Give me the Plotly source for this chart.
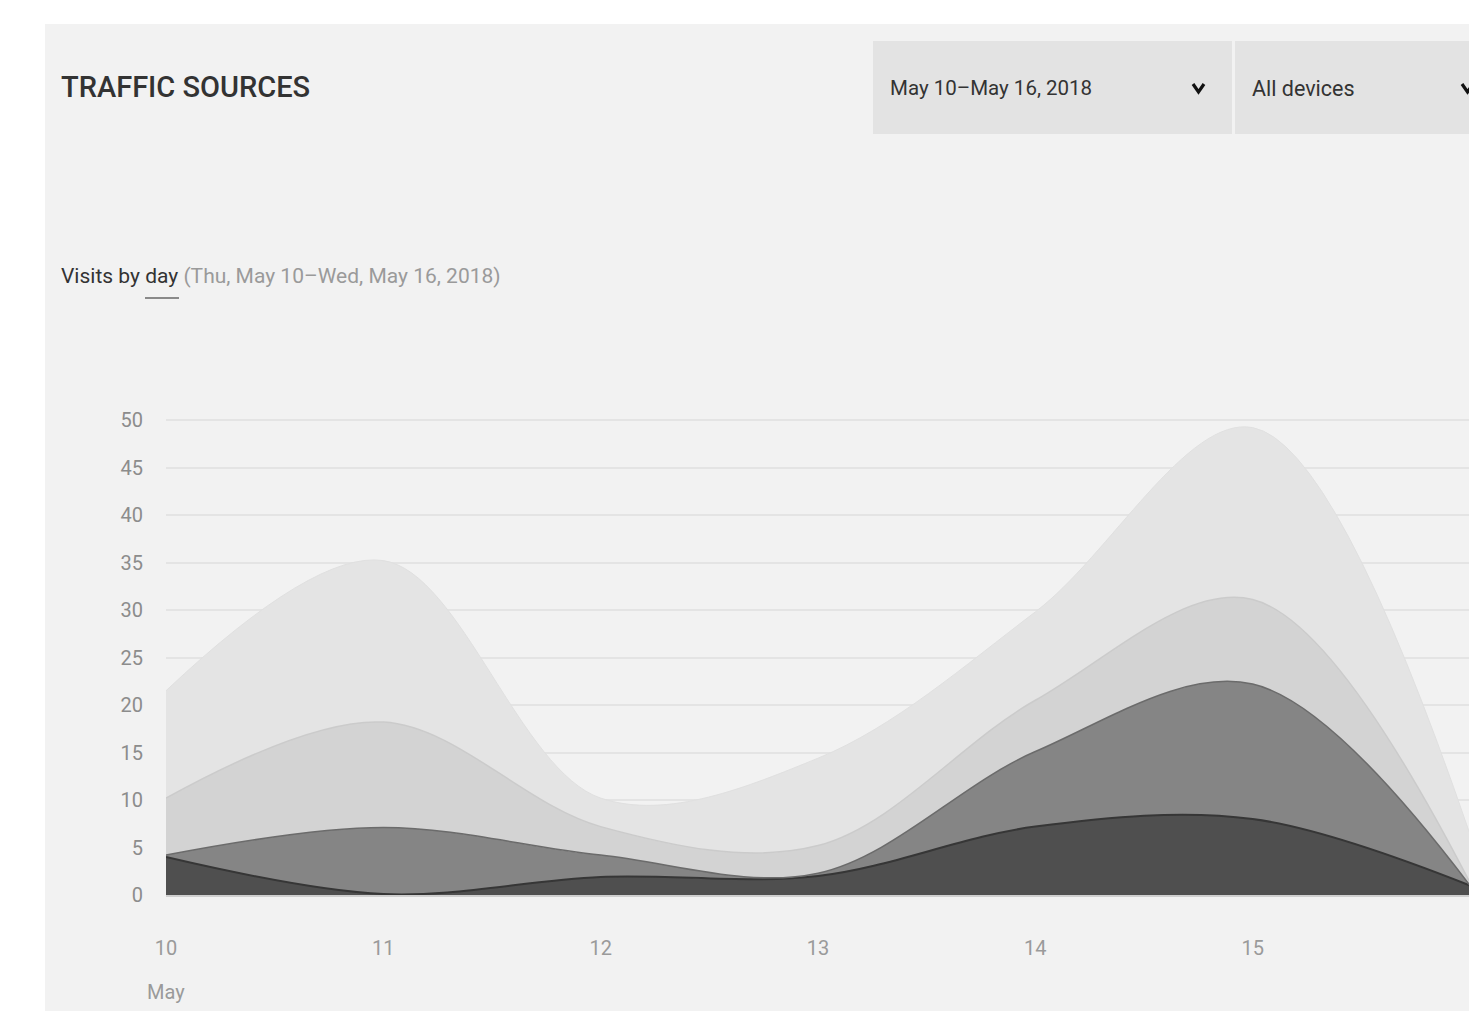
import plotly.graph_objects as go

# ---- data ----
days = [10, 11, 12, 13, 14, 15, 16]
day_labels = ["10", "11", "12", "13", "14", "15", "16"]
series_names = ["Source A", "Source B", "Source C", "Source D"]
source_a = [4.0, 0.1, 1.9, 2.0, 7.2, 8.0, 1.0]
source_b = [0.2, 7.0, 2.3, 0.3, 7.9, 14.2, 0.0]
source_c = [6.0, 11.1, 3.0, 2.9, 5.4, 8.9, 0.3]
source_d = [11.3, 17.0, 3.0, 9.2, 9.3, 18.1, 5.1]
y_ticks = [0, 5, 10, 15, 20, 25, 30, 35, 40, 45, 50]

# page has an 8px body margin: figure sits at (8, 8) on screen
OFF = 8
W, H = 1477 - OFF, 1011 - OFF
FONT = "Roboto, Lato, sans-serif"


def px(x):
    return (x - OFF) / W


def py(y):
    return 1 - (y - OFF) / H


fills = ["#4f4f4f", "#858585", "#d3d3d3", "#e4e4e4"]
lines = ["#363636", "#6b6b6b", "#cbcbcb", "#e0e0e0"]
widths = [2, 1.5, 1.5, 1]

fig = go.Figure()
for name, vals, fc, lc, lw in zip(series_names, [source_a, source_b, source_c, source_d], fills, lines, widths):
    fig.add_trace(go.Scatter(
        x=days, y=vals, name=name, mode="lines", stackgroup="one",
        line=dict(shape="spline", smoothing=1.0, color=lc, width=lw),
        fillcolor=fc, hoverinfo="skip", showlegend=False,
    ))

shapes = [
    # panel background
    dict(type="rect", xref="paper", yref="paper", x0=px(45), x1=px(1490), y0=py(24), y1=py(1030),
         fillcolor="#f2f2f2", line=dict(width=0), layer="below"),
    # dropdown boxes
    dict(type="rect", xref="paper", yref="paper", x0=px(873), x1=px(1232), y0=py(41), y1=py(134),
         fillcolor="#e3e3e3", line=dict(width=0), layer="below"),
    dict(type="rect", xref="paper", yref="paper", x0=px(1235), x1=px(1490), y0=py(41), y1=py(134),
         fillcolor="#e3e3e3", line=dict(width=0), layer="below"),
    # chevrons
    dict(type="path", xref="paper", yref="paper",
         path=f"M {px(1193)},{py(84)} L {px(1198.5)},{py(92)} L {px(1204)},{py(84)}",
         line=dict(color="#111111", width=3.2)),
    dict(type="path", xref="paper", yref="paper",
         path=f"M {px(1462)},{py(84)} L {px(1467.5)},{py(92)} L {px(1473)},{py(84)}",
         line=dict(color="#111111", width=3.2)),
    # underline under "day"
    dict(type="line", xref="paper", yref="paper", x0=px(145), x1=px(179), y0=py(298), y1=py(298),
         line=dict(color="#8a8a8a", width=2)),
]

annotations = [
    dict(text="TRAFFIC SOURCES", xref="paper", yref="paper", x=px(59), y=py(87), xanchor="left",
         yanchor="middle", showarrow=False, font=dict(family=FONT, size=29, color="#333333", weight=500)),
    dict(text="May 10–May 16, 2018", xref="paper", yref="paper", x=px(888), y=py(88), xanchor="left",
         yanchor="middle", showarrow=False, font=dict(family=FONT, size=20.5, color="#333333")),
    dict(text="All devices", xref="paper", yref="paper", x=px(1250), y=py(88), xanchor="left",
         yanchor="middle", showarrow=False, font=dict(family=FONT, size=21.5, color="#333333")),
    dict(text="Visits by day <span style='color:#9a9a9a'>(Thu, May 10–Wed, May 16, 2018)</span>",
         xref="paper", yref="paper", x=px(59), y=py(276), xanchor="left", yanchor="middle",
         showarrow=False, font=dict(family=FONT, size=21, color="#333333")),
    dict(text="May", xref="paper", yref="paper", x=px(166), y=py(992), xanchor="center", yanchor="middle",
         showarrow=False, font=dict(family=FONT, size=20, color="#9a9a9a")),
]

y_top = 53
unit = (895 - 420) / 50.0
top_px = 895 - y_top * unit

fig.update_layout(
    width=W, height=H,
    margin=dict(l=0, r=0, t=0, b=0, autoexpand=False),
    paper_bgcolor="#ffffff", plot_bgcolor="rgba(0,0,0,0)",
    shapes=shapes, annotations=annotations, showlegend=False,
    xaxis=dict(domain=[px(166), px(1470)], range=[10, 16], tickvals=days, ticktext=day_labels,
               showgrid=False, zeroline=False, showline=True, linecolor="#cfcfcf", linewidth=2,
               ticks="", ticklabelstandoff=34, automargin=False,
               tickfont=dict(family=FONT, size=20, color="#9a9a9a")),
    yaxis=dict(domain=[py(895), py(top_px)], range=[0, y_top], tickvals=y_ticks,
               showgrid=True, gridcolor="#e4e4e4", gridwidth=1.5, zeroline=False, showline=False,
               ticks="", ticklabelstandoff=22, automargin=False,
               tickfont=dict(family=FONT, size=20, color="#8c8c8c")),
)

fig.write_html("out.html")
